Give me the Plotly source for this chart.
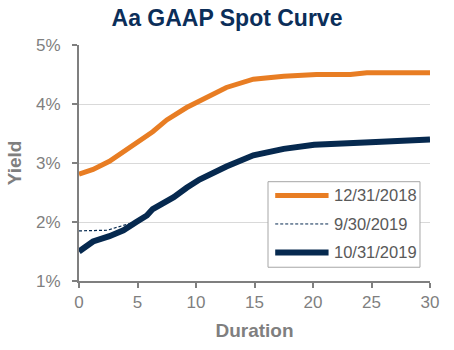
import plotly.graph_objects as go

# Spot-curve yields (%) by duration (years)
dur_1231 = [0, 1.2, 2.6, 4.9, 6.3, 7.5, 9.2, 10.9, 12.6, 14.9, 17.5, 20.3, 23.2, 24.6, 30]
yld_1231 = [2.81, 2.89, 3.03, 3.33, 3.53, 3.73, 3.94, 4.11, 4.28, 4.42, 4.47, 4.50, 4.50, 4.53, 4.53]

dur_0930 = [0, 2.4, 4.1, 4.9, 5.8, 6.3, 8.1, 9.2, 10.3, 12.6, 14.9, 17.5, 20.1, 24.9, 30]
yld_0930 = [1.85, 1.86, 1.96, 2.00, 2.11, 2.22, 2.42, 2.58, 2.72, 2.94, 3.13, 3.24, 3.31, 3.35, 3.40]

dur_1031 = [0, 1.2, 2.6, 3.8, 4.9, 5.8, 6.3, 8.1, 9.2, 10.3, 12.6, 14.9, 17.5, 20.1, 24.9, 30]
yld_1031 = [1.50, 1.67, 1.76, 1.86, 2.00, 2.11, 2.22, 2.42, 2.58, 2.72, 2.94, 3.13, 3.24, 3.31, 3.35, 3.40]

x_ticks = [0, 5, 10, 15, 20, 25, 30]
y_ticks = [1, 2, 3, 4, 5]
y_labels = ["1%", "2%", "3%", "4%", "5%"]

ORANGE = "#E87D23"
NAVY = "#06294F"
GRAY = "#7F7F7F"
FONT = "Liberation Sans, Arial, sans-serif"

series = [
    ("12/31/2018", dur_1231, yld_1231, dict(color=ORANGE, width=5)),
    ("9/30/2019", dur_0930, yld_0930, dict(color=NAVY, width=1.2, dash="3px,2px")),
    ("10/31/2019", dur_1031, yld_1031, dict(color=NAVY, width=6)),
]

fig = go.Figure()
for name, xs, ys, line in series:
    fig.add_trace(go.Scatter(x=xs, y=ys, mode="lines", name=name, line=line, showlegend=False))

# Boxed legend drawn in paper coordinates
box = dict(x0=0.5385, x1=0.9715, y0=0.0583, y1=0.4208)
fig.add_shape(type="rect", xref="paper", yref="paper", **box,
              line=dict(color="#A6A6A6", width=1), fillcolor="white", layer="above")
row_y = [0.3625, 0.2417, 0.1208]
legend_lines = [dict(color=ORANGE, width=5), dict(color=NAVY, width=1, dash="3px,2px"),
                dict(color=NAVY, width=6)]
for (name, _, _, _), yy, ln in zip(series, row_y, legend_lines):
    fig.add_shape(type="line", xref="paper", yref="paper", x0=0.559, x1=0.711, y0=yy, y1=yy,
                  line=ln, layer="above")
    fig.add_annotation(xref="paper", yref="paper", x=0.722, y=yy, text=name, showarrow=False,
                       xanchor="left", yanchor="middle",
                       font=dict(size=16.5, color="#595959", family=FONT))

fig.update_layout(
    width=454, height=350,
    margin=dict(l=79, r=24, t=45, b=65),
    paper_bgcolor="white", plot_bgcolor="white",
    font=dict(family=FONT, color=GRAY),
    showlegend=False,
    title=dict(text="<b>Aa GAAP Spot Curve</b>", x=0.5, xanchor="center", y=0.948, yanchor="middle",
               font=dict(size=23, color="#0B2E59", family=FONT)),
    xaxis=dict(range=[0, 30], tickvals=x_ticks, showgrid=False, zeroline=False,
               showline=True, linecolor=GRAY, linewidth=2, ticks="outside", ticklen=5,
               tickcolor=GRAY, tickwidth=2, tickfont=dict(size=17, color=GRAY),
               title=dict(text="<b>Duration</b>", font=dict(size=19, color=GRAY), standoff=12)),
    yaxis=dict(range=[1, 5], tickvals=y_ticks, ticktext=y_labels, showgrid=True,
               gridcolor="#D9D9D9", gridwidth=1, zeroline=False, showline=True,
               linecolor=GRAY, linewidth=2, ticks="outside", ticklen=5, tickcolor=GRAY,
               tickwidth=2, tickfont=dict(size=17, color=GRAY), ticklabelstandoff=8,
               title=dict(text="<b>Yield</b>", font=dict(size=19, color=GRAY), standoff=9)),
)

fig.write_html("out.html")
